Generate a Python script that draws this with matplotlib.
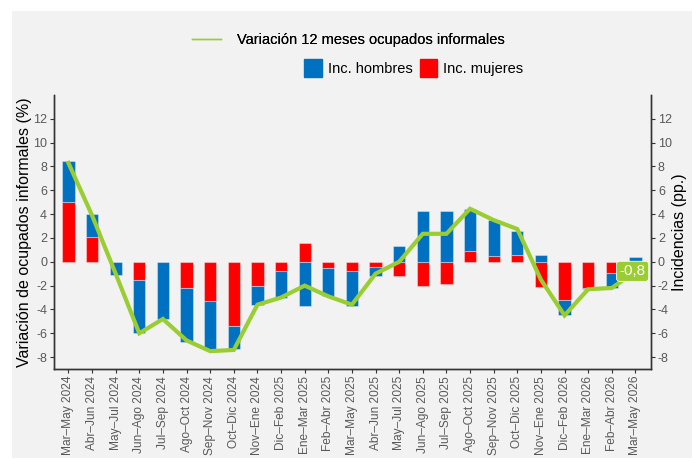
import numpy as np
import matplotlib
matplotlib.use("Agg")
import matplotlib.pyplot as plt
from matplotlib.lines import Line2D
from matplotlib.patches import Patch, Rectangle

plt.rcParams['font.family'] = ['Liberation Sans', 'DejaVu Sans']
plt.rcParams['axes.unicode_minus'] = False

# trimestres móviles
periodos = [
    "Mar–May 2024", "Abr–Jun 2024", "May–Jul 2024", "Jun–Ago 2024", "Jul–Sep 2024",
    "Ago–Oct 2024", "Sep–Nov 2024", "Oct–Dic 2024", "Nov–Ene 2024", "Dic–Feb 2025",
    "Ene–Mar 2025", "Feb–Abr 2025", "Mar–May 2025", "Abr–Jun 2025", "May–Jul 2025",
    "Jun–Ago 2025", "Jul–Sep 2025", "Ago–Oct 2025", "Sep–Nov 2025", "Oct–Dic 2025",
    "Nov–Ene 2025", "Dic–Feb 2026", "Ene–Mar 2026", "Feb–Abr 2026", "Mar–May 2026",
]
inc_hombres = [3.5, 1.9, -1.1, -4.5, -4.8, -4.5, -4.1, -1.9, -1.6, -2.2,
               -3.7, -2.4, -2.9, -0.8, 1.3, 4.3, 4.3, 3.5, 3.0, 2.0,
               0.6, -1.3, -0.1, -1.3, 0.4]
inc_mujeres = [5.0, 2.1, 0.0, -1.5, 0.0, -2.2, -3.3, -5.4, -2.0, -0.8,
               1.6, -0.5, -0.8, -0.4, -1.2, -2.0, -1.9, 0.9, 0.5, 0.6,
               -2.1, -3.2, -2.2, -0.9, -1.2]
var_informales = [8.3, 3.9, -1.0, -6.0, -4.8, -6.6, -7.5, -7.4, -3.6, -3.0,
                  -2.0, -2.9, -3.6, -1.0, 0.0, 2.35, 2.35, 4.45, 3.5, 2.75,
                  -1.5, -4.5, -2.3, -2.2, -0.8]

AZUL = "#0070c0"
ROJO = "#ff0000"
VERDE = "#9acd32"
FONDO = "#f2f2f2"
GRIS_TXT = "#595959"

fig = plt.figure(figsize=(6.92, 4.59), dpi=100, facecolor="white")
fig.patches.append(Rectangle((12 / 692, 1 / 459), 1, (458 - 11) / 459,
                             transform=fig.transFigure, facecolor=FONDO,
                             edgecolor="none", zorder=-10))

ax = fig.add_axes([54 / 692, 1 - 369 / 459, (651 - 54) / 692, (369 - 95) / 459])
ax.set_facecolor(FONDO)

x = np.arange(len(periodos))
h = np.array(inc_hombres)
m = np.array(inc_mujeres)
# hombres se apilan sobre mujeres cuando tienen el mismo signo
base_h = np.where(np.sign(h) == np.sign(m), m, 0)

borde = dict(edgecolor=(1, 1, 1, 0.35), linewidth=0.8)
ax.bar(x, m, width=0.52, color=ROJO, zorder=2, **borde)
ax.bar(x, h, bottom=base_h, width=0.52, color=AZUL, zorder=2, **borde)
ax.plot(x, var_informales, color=VERDE, lw=3, zorder=3, solid_joinstyle="miter")

etiqueta = f"{var_informales[-1]:.1f}".replace(".", ",")
ax.annotate(etiqueta, xy=(x[-1], var_informales[-1]), xytext=(-2, 0),
            textcoords="offset points", ha="center", va="center",
            color="white", fontsize=11, zorder=5,
            bbox=dict(boxstyle="round,pad=0.2,rounding_size=0.2", fc=VERDE,
                      ec="white", lw=0.6))

ylim = (-9, 14)
yticks = np.arange(-8, 13, 2)
ax.set_xlim(-0.61, len(periodos) - 1 + 0.66)
ax.set_ylim(*ylim)
ax.set_yticks(yticks)
ax.set_xticks(x)
ax.set_xticklabels(periodos, rotation=90, fontsize=8.6, color=GRIS_TXT)
ax.tick_params(axis="y", labelsize=9, labelcolor=GRIS_TXT, length=3,
               color="#333333", pad=2)
ax.tick_params(axis="x", length=3, color="#333333", pad=2)
ax.set_ylabel("Variación de ocupados informales (%)", fontsize=11.5)
ax.yaxis.set_label_coords(-0.037, 0.5)

ax2 = ax.twinx()
ax2.set_ylim(*ylim)
ax2.set_yticks(yticks)
ax2.tick_params(axis="y", labelsize=9, labelcolor=GRIS_TXT, length=3,
                color="#333333", pad=2)
ax2.set_ylabel("Incidencias (pp.)", fontsize=11.5)
ax2.yaxis.set_label_coords(1.035, 0.5)

for a in (ax, ax2):
    a.spines["top"].set_visible(False)
    for s in ("left", "right", "bottom"):
        a.spines[s].set_color("#333333")
        a.spines[s].set_linewidth(1)

leg1 = fig.legend(handles=[Line2D([], [], color=VERDE, lw=1)],
                  labels=["Variación 12 meses ocupados informales"],
                  loc="center", bbox_to_anchor=(0.504, 0.913), frameon=False,
                  fontsize=10.5, handlelength=2.0, handletextpad=1.1)
fig.legend(handles=[Patch(color=AZUL), Patch(color=ROJO)],
           labels=["Inc. hombres", "Inc. mujeres"], ncol=2,
           loc="center", bbox_to_anchor=(0.598, 0.852), frameon=False,
           fontsize=10.5, handlelength=1.2, handleheight=1.6,
           handletextpad=0.4, columnspacing=0.5)
fig.add_artist(leg1)

fig.savefig("out.png", dpi=100, facecolor="white")
